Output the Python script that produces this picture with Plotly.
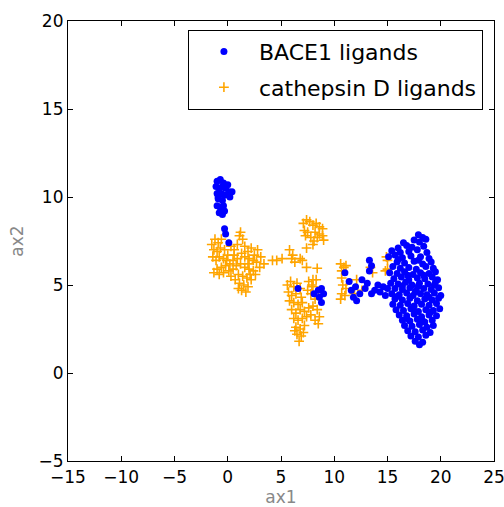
import plotly.graph_objects as go

# ---- BACE1 ligands (blue) ----
bace1_top_x = [-1.0, -0.7, -0.4, -1.1, -0.8, -0.5, -0.2, 0.1, -1.0, -0.6, -0.3, 0.2, 0.4, -0.9, -0.5, -1.0, -0.7, -0.4, -0.8, -0.5, -0.3, -0.9, 0.0,
               -0.3, -0.2, 0.1]
bace1_top_y = [10.9, 11.0, 10.8, 10.6, 10.5, 10.6, 10.5, 10.3, 10.2, 10.2, 10.1, 10.0, 10.3, 9.9, 9.8, 9.5, 9.4, 9.5, 9.1, 9.0, 9.2, 10.0, 10.7,
               8.2, 7.9, 7.4]

bace1_mid_x = [6.6, 8.1, 8.5, 8.8, 9.0, 8.6, 8.8,
               11.0, 11.4, 11.6, 12.0, 12.1, 12.4, 12.6, 12.9, 13.1, 13.3, 13.5, 13.3, 13.5, 13.8, 14.1, 14.3, 14.6, 14.8, 15.0, 11.8]
bace1_mid_y = [4.8, 4.5, 4.7, 4.8, 4.5, 4.3, 4.0,
               5.7, 5.2, 4.7, 4.9, 4.1, 4.5, 5.3, 4.8, 5.1, 6.4, 6.1, 5.8, 4.5, 4.7, 5.0, 4.6, 4.9, 4.4, 4.8, 4.3]

bace1_main_x = [17.9, 18.3,
                16.5, 17.5, 18.0, 18.6,
                16.0, 16.8, 17.3, 18.4,
                15.4, 16.2, 17.0, 17.8, 18.7,
                15.1, 15.7, 16.4, 17.2, 18.1, 18.9,
                15.9, 16.6, 17.5, 18.3, 19.1,
                15.5, 16.2, 17.0, 17.7, 18.6, 19.3,
                15.2, 15.9, 16.6, 17.4, 18.1, 18.9, 19.5,
                15.6, 16.3, 17.0, 17.8, 18.5, 19.2, 19.7,
                15.3, 16.0, 16.7, 17.3, 18.0, 18.8, 19.5,
                15.7, 16.4, 17.1, 17.7, 18.4, 19.1, 19.8,
                15.4, 16.1, 16.8, 17.4, 18.1, 18.7, 19.4, 20.0,
                15.7, 16.4, 17.1, 17.8, 18.5, 19.2, 19.8,
                15.5, 16.2, 16.9, 17.5, 18.2, 18.9, 19.6,
                15.8, 16.5, 17.2, 17.9, 18.6, 19.3, 19.9,
                16.1, 16.8, 17.5, 18.2, 18.9, 19.6,
                16.4, 17.1, 17.8, 18.5, 19.2,
                16.6, 17.3, 18.0, 18.7, 19.3,
                16.9, 17.6, 18.3, 19.0,
                17.2, 17.9, 18.6,
                17.6, 18.3,
                18.0,
                16.0, 17.9, 16.9, 18.4, 16.4, 17.9, 15.9, 18.9, 17.4, 16.8, 18.3, 19.0, 17.6, 19.4]
bace1_main_y = [7.85, 7.7,
                7.4, 7.55, 7.45, 7.6,
                7.1, 7.25, 7.15, 7.2,
                6.95, 6.85, 6.9, 7.0, 6.85,
                6.6, 6.7, 6.55, 6.65, 6.6, 6.5,
                6.3, 6.25, 6.35, 6.2, 6.3,
                6.05, 5.95, 6.0, 5.9, 6.05, 5.95,
                5.7, 5.65, 5.75, 5.6, 5.7, 5.65, 5.75,
                5.35, 5.45, 5.3, 5.4, 5.35, 5.45, 5.3,
                5.1, 5.05, 5.15, 5.0, 5.1, 5.05, 5.15,
                4.8, 4.75, 4.85, 4.7, 4.8, 4.75, 4.85,
                4.5, 4.45, 4.55, 4.4, 4.5, 4.45, 4.55, 4.4,
                4.2, 4.15, 4.25, 4.1, 4.2, 4.15, 4.25,
                3.9, 3.85, 3.95, 3.8, 3.9, 3.85, 3.95,
                3.6, 3.55, 3.65, 3.5, 3.6, 3.55, 3.65,
                3.3, 3.25, 3.35, 3.2, 3.3, 3.25,
                3.0, 2.95, 3.05, 2.9, 3.0,
                2.7, 2.65, 2.75, 2.6, 2.7,
                2.4, 2.35, 2.45, 2.3,
                2.1, 2.05, 2.15,
                1.8, 1.75,
                1.6,
                6.45, 6.4, 5.55, 5.55, 4.95, 4.95, 4.35, 4.3, 3.7, 3.1, 2.95, 3.45, 4.6, 5.0]

bace1_x = bace1_top_x + bace1_mid_x + bace1_main_x
bace1_y = bace1_top_y + bace1_mid_y + bace1_main_y

# ---- cathepsin D ligands (orange) ----
cathd_left_x = [-1.5, -1.2, -0.9, -0.6, -1.3, -1.0, -0.7, -0.3, -1.4, -1.1, -0.8, -0.4, 0.0, 0.3, 0.6, 0.9, 1.1, 1.4, 1.2, 1.6,
                1.9, 2.2, 2.5, 2.8, 3.1, 3.4, 3.0, 2.7, 2.4, 2.0, 1.6, 1.3, 0.9, 0.5, 0.2, -0.2, -0.6, -1.0, -1.3, -0.8,
                -0.4, 0.1, 0.5, 0.8, 1.2, 1.6, 2.0, 2.4, 1.0, 1.4, 1.8, 2.2, 0.7, 1.1, 1.5, 1.9, 1.3, 1.7, 1.0, 2.1,
                0.3, -0.1, 0.6, 1.9, 2.6]
cathd_left_y = [7.3, 7.6, 7.4, 7.6, 7.0, 6.9, 7.1, 7.0, 6.6, 6.4, 6.6, 6.5, 6.7, 7.2, 7.0, 7.3, 7.8, 7.6, 8.0, 7.2,
                6.9, 7.1, 6.7, 7.0, 6.6, 6.2, 6.0, 6.3, 6.4, 6.5, 6.6, 6.8, 6.5, 6.4, 6.2, 6.1, 6.0, 5.9, 5.7, 5.6,
                5.7, 5.8, 5.9, 6.1, 6.2, 6.0, 5.9, 5.8, 5.6, 5.5, 5.4, 5.3, 5.3, 5.1, 5.0, 4.9, 4.7, 4.6, 4.8, 5.6,
                5.5, 6.4, 6.7, 6.2, 5.6]

cathd_bridge_x = [4.2, 4.6, 5.1, 5.8, 6.1, 6.3, 6.0, 6.8, 7.4, 7.0, 7.4, 8.4, 8.0, 8.0, 9.0]
cathd_bridge_y = [6.4, 6.4, 6.5, 7.0, 6.7, 6.3, 6.5, 6.5, 7.1, 6.4, 6.0, 5.95, 5.3, 4.9, 7.55]

cathd_midtop_x = [7.1, 7.4, 7.7, 8.0, 8.3, 8.6, 8.9, 7.2, 7.5, 8.6, 8.9, 7.8, 8.1, 8.4, 7.3, 8.0, 8.2]
cathd_midtop_y = [8.5, 8.7, 8.6, 8.4, 8.5, 8.3, 8.2, 8.1, 8.0, 7.9, 7.8, 7.7, 7.5, 7.7, 7.8, 7.3, 8.0]

cathd_midbot_x = [5.6, 5.9, 6.2, 6.5, 6.8, 5.7, 6.0, 6.4, 6.9, 5.8, 6.2, 6.6, 7.0, 7.6, 7.9, 8.3, 7.5, 7.8, 8.2, 8.5,
                  6.0, 6.4, 6.8, 7.2, 7.6, 8.0, 8.4, 8.6, 6.2, 6.6, 7.0, 7.4, 7.8, 8.2, 8.5, 6.4, 6.8, 7.2, 6.5, 6.9,
                  6.7, 7.1, 6.3]
cathd_midbot_y = [5.0, 5.2, 4.9, 5.1, 4.8, 4.6, 4.4, 4.5, 4.3, 4.1, 4.0, 3.9, 4.0, 5.2, 5.0, 5.3, 4.7, 4.5, 4.2, 4.4,
                  3.6, 3.4, 3.6, 3.5, 3.7, 3.8, 3.6, 3.2, 3.1, 3.0, 3.1, 3.2, 3.3, 3.0, 2.8, 2.6, 2.5, 2.7, 2.2, 2.1,
                  1.8, 2.3, 2.4]

cathd_right_x = [10.6, 10.9, 11.1, 10.7, 10.7, 12.1, 10.8, 11.1, 10.7, 11.0, 10.6, 11.9, 12.6, 13.4, 13.6, 14.9, 15.0, 15.0, 14.8]
cathd_right_y = [6.2, 6.0, 6.1, 5.8, 5.4, 5.3, 5.0, 4.8, 4.5, 4.4, 4.2, 4.5, 4.7, 6.0, 5.7, 6.6, 6.4, 5.9, 5.8]

cathd_x = cathd_left_x + cathd_bridge_x + cathd_midtop_x + cathd_midbot_x + cathd_right_x
cathd_y = cathd_left_y + cathd_bridge_y + cathd_midtop_y + cathd_midbot_y + cathd_right_y

x_ticks = [-15, -10, -5, 0, 5, 10, 15, 20, 25]
y_ticks = [-5, 0, 5, 10, 15, 20]

fig = go.Figure()
fig.add_trace(go.Scatter(
    x=cathd_x, y=cathd_y, mode="markers", name="cathepsin D ligands",
    legendrank=2, legendgroup="b",
    marker=dict(symbol="cross-thin", size=7, color="#FFA500",
                line=dict(color="#FFA500", width=1.6)),
))
fig.add_trace(go.Scatter(
    x=bace1_x, y=bace1_y, mode="markers", name="BACE1 ligands",
    legendrank=1, legendgroup="a",
    marker=dict(symbol="circle", size=7, color="#0000FF", line=dict(width=0)),
))

axis_common = dict(
    showgrid=False, zeroline=False, showline=True, linecolor="black", linewidth=1.2,
    mirror="ticks", ticks="inside", ticklen=5, tickwidth=1, tickcolor="black",
    tickfont=dict(family="DejaVu Sans", size=17, color="black"),
    automargin=False, ticklabeloverflow="allow",
)
fig.update_xaxes(range=[-15, 25], tickvals=x_ticks, **axis_common,
                 title=dict(text="ax1", font=dict(family="DejaVu Sans", size=17, color="#888888"), standoff=10))
fig.update_yaxes(range=[-5, 20], tickvals=y_ticks, **axis_common,
                 title=dict(text="ax2", font=dict(family="DejaVu Sans", size=17, color="#888888"), standoff=10))

fig.update_layout(
    width=504, height=507,
    margin=dict(l=68, r=10, t=21, b=46),
    plot_bgcolor="white", paper_bgcolor="white",
    font=dict(family="DejaVu Sans", size=17, color="black"),
    showlegend=True,
    legend=dict(x=0.974, y=0.98, xanchor="right", yanchor="top",
                bordercolor="black", borderwidth=1, bgcolor="white",
                font=dict(family="DejaVu Sans", size=22, color="black"),
                itemwidth=60, tracegroupgap=4, traceorder="grouped"),
)

fig.write_html("out.html")
